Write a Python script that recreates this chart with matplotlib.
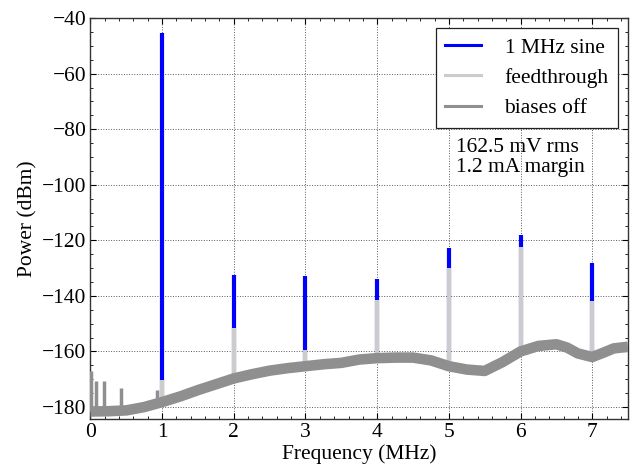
"""Spectrum of a 1 MHz sine through the device, compared with feedthrough
and biases-off noise floor."""

import matplotlib
matplotlib.use("Agg")
import matplotlib.pyplot as plt
import numpy as np
from matplotlib.lines import Line2D
from matplotlib.ticker import MultipleLocator

# noise floor (biases off), read along the centre of the grey band
floor_freq = [0.0, 0.25, 0.5, 0.75, 1.0, 1.25, 1.5, 1.75, 2.0, 2.25, 2.5,
              2.75, 3.0, 3.25, 3.5, 3.75, 4.0, 4.25, 4.5, 4.75, 5.0, 5.25,
              5.5, 5.75, 6.0, 6.25, 6.5, 6.65, 6.8, 7.0, 7.15, 7.3, 7.5]
floor_dbm = [-181.6, -181.5, -181.2, -180.0, -178.2, -176.2, -173.9, -171.8,
             -169.7, -168.2, -166.9, -166.0, -165.3, -164.6, -164.1, -162.9,
             -162.4, -162.2, -162.2, -163.2, -165.3, -166.5, -167.0, -163.8,
             -160.0, -158.0, -157.4, -158.6, -160.7, -162.0, -160.5, -158.9,
             -158.3]

# spurs on the biases-off trace
spur_freq = [0.01, 0.07, 0.19, 0.42, 0.93, 6.05, 6.35, 6.45]
spur_dbm = [-167.2, -170.8, -170.8, -173.0, -173.8, -158.5, -156.8, -155.8]

# tones: 1 MHz sine and its harmonics
tone_freq = [1, 2, 3, 4, 5, 6, 7]
sine_dbm = [-45.4, -132.5, -133.0, -134.0, -122.9, -117.9, -128.3]
feed_dbm = [-170.2, -151.5, -159.6, -141.4, -130.0, -122.4, -142.0]

C_SINE = "#0000ff"
C_FEED = "#cccccc"
C_OFF = "#8f8f8f"
FS = 15.5

plt.rcParams["font.family"] = ["Liberation Serif", "DejaVu Serif"]
plt.rcParams["font.size"] = FS
plt.rcParams["axes.unicode_minus"] = True

fig = plt.figure(figsize=(6.35, 4.72), dpi=100)
ax = fig.add_axes([0.1425, 0.1117, 0.8465, 0.85])

base = np.interp(tone_freq, floor_freq, floor_dbm)
ax.vlines(tone_freq, base, sine_dbm, color=C_SINE, linewidth=3, zorder=2)
ax.vlines(tone_freq, base, feed_dbm, color=C_FEED, linewidth=3, zorder=3)
spur_base = np.interp(spur_freq, floor_freq, floor_dbm)
ax.vlines(spur_freq, spur_base, spur_dbm, color=C_OFF, linewidth=2.5, zorder=4)
ax.plot(floor_freq, floor_dbm, color=C_OFF, linewidth=7.6, zorder=4,
        solid_capstyle="butt")

ax.set_xlim(0, 7.5)
ax.set_ylim(-184.4, -40)
ax.xaxis.set_major_locator(MultipleLocator(1))
ax.xaxis.set_minor_locator(MultipleLocator(0.2))
ax.yaxis.set_major_locator(MultipleLocator(20))
ax.yaxis.set_minor_locator(MultipleLocator(5))
ax.tick_params(which="both", direction="in", top=True, right=True)
ax.tick_params(which="major", length=4, width=0.8, labelsize=FS, pad=3)
ax.tick_params(which="minor", length=2, width=0.6)
for sp in ax.spines.values():
    sp.set_linewidth(1.0)
    sp.set_color("#333333")
ax.grid(True, which="major", linestyle=":", color="0.35", linewidth=0.7)
ax.set_axisbelow(True)

ax.set_xlabel("Frequency (MHz)", fontsize=FS, labelpad=1)
ax.set_ylabel("Power (dBm)", fontsize=FS, labelpad=3)

handles = [Line2D([], [], color=C_SINE, lw=2.2),
           Line2D([], [], color=C_FEED, lw=2.2),
           Line2D([], [], color=C_OFF, lw=2.2)]
leg = ax.legend(handles, ["1 MHz sine", "feedthrough", "biases off"],
                loc="upper right", fontsize=FS, handlelength=1.65,
                handletextpad=1.1, labelspacing=0.48, borderpad=0.45,
                borderaxespad=0.45, fancybox=False, framealpha=1)
leg.get_frame().set_edgecolor("#222222")
leg.get_frame().set_linewidth(0.9)

ax.text(5.1, -83.0, "162.5 mV rms\n1.2 mA margin", fontsize=FS,
        va="top", ha="left", linespacing=1.1)

fig.savefig("out.png", dpi=100)
